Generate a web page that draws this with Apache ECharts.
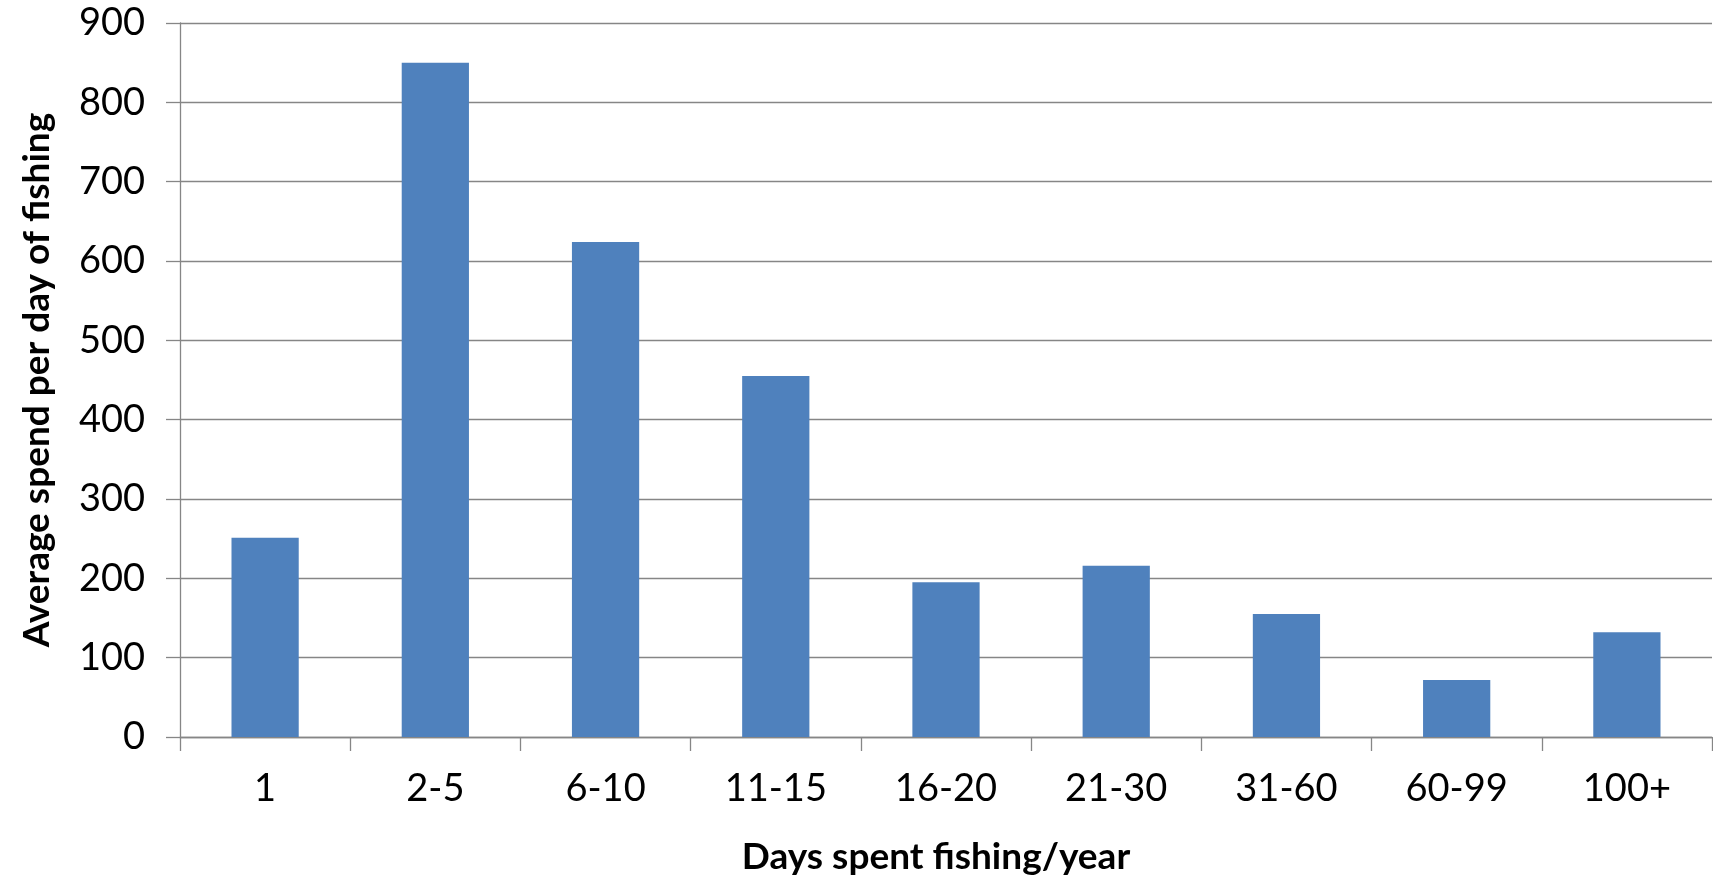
<!DOCTYPE html>
<html>
<head>
<meta charset="utf-8">
<script src="https://cdn.jsdelivr.net/npm/echarts@6/dist/echarts.min.js"></script>
<style>
  html, body { margin: 0; padding: 0; background: #ffffff; }
  #chart { width: 1713px; height: 881px; }
</style>
</head>
<body>
<div id="chart"></div>
<script>
// Days-fishing buckets and the average spend per day for each
const categories = ['1', '2-5', '6-10', '11-15', '16-20', '21-30', '31-60', '60-99', '100+'];
const avgSpend = [251, 850, 624, 455, 195, 216, 155, 72, 132];
const yTicks = { min: 0, max: 900, interval: 100 };

const FONT = 'Lato, "Open Sans", sans-serif';
const LINE = '#868686';

const chart = echarts.init(document.getElementById('chart'), null, { renderer: 'canvas' });
chart.setOption({
  animation: false,
  backgroundColor: '#ffffff',
  grid: { left: 180, right: 1, top: 23, bottom: 144, containLabel: false },
  xAxis: {
    type: 'category',
    data: categories,
    name: 'Days spent fishing/year',
    nameLocation: 'middle',
    nameGap: 102,
    nameTextStyle: { fontFamily: FONT, fontSize: 37, fontWeight: 'bold', color: '#000', padding: [0, 20, 0, 0] },
    axisLine: { show: true, lineStyle: { color: LINE, width: 1.3 } },
    axisTick: { show: true, length: 14, alignWithLabel: false, lineStyle: { color: LINE, width: 1.3 } },
    axisLabel: { fontFamily: FONT, fontSize: 38, color: '#000', margin: 33 },
    splitLine: { show: false }
  },
  yAxis: {
    type: 'value',
    min: yTicks.min,
    max: yTicks.max,
    interval: yTicks.interval,
    name: 'Average spend per day of fishing',
    nameLocation: 'middle',
    nameGap: 124,
    nameRotate: 90,
    nameTextStyle: { fontFamily: FONT, fontSize: 37, fontWeight: 'bold', color: '#000' },
    axisLine: { show: true, lineStyle: { color: LINE, width: 1.3 } },
    axisTick: { show: true, length: 14, lineStyle: { color: LINE, width: 1.3 } },
    axisLabel: { fontFamily: FONT, fontSize: 38, color: '#000', margin: 35 },
    splitLine: { show: true, lineStyle: { color: LINE, width: 1.3 } }
  },
  series: [{
    type: 'bar',
    data: avgSpend,
    barCategoryGap: '60.5%',
    itemStyle: { color: '#4F81BD' }
  }]
});
</script>
</body>
</html>
